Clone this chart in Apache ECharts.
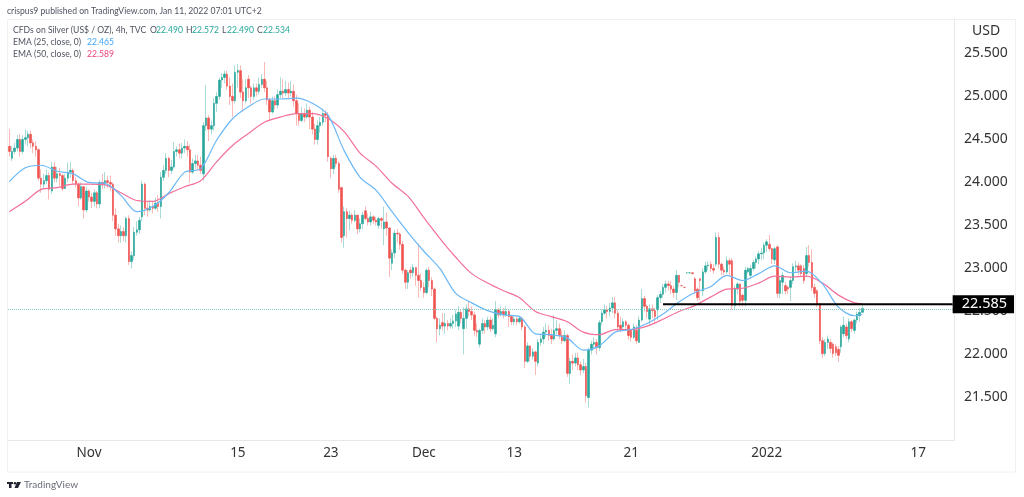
<!DOCTYPE html>
<html>
<head>
<meta charset="utf-8">
<title>CFDs on Silver</title>
<script src="https://cdn.jsdelivr.net/npm/echarts@6/dist/echarts.min.js"></script>
<style>
html,body{margin:0;padding:0;background:#fff;}
#chart{width:1024px;height:497px;}
</style>
</head>
<body>
<div id="chart"></div>
<script>
// candles, one 4h bar per entry
var opens = [
24.42,24.28,24.36,24.40,24.50,24.36,24.50,24.52,24.56,24.46,
24.42,24.38,24.05,23.98,24.02,24.08,23.90,24.18,24.05,24.10,
24.08,23.93,24.05,24.12,24.14,24.02,23.98,23.82,23.95,23.68,
23.90,23.83,23.78,23.88,23.75,24.00,23.98,24.02,24.00,23.98,
23.62,23.46,23.38,23.43,23.38,23.58,23.08,23.15,23.42,23.45,
23.60,23.98,23.70,23.68,23.72,23.70,23.76,23.72,24.06,24.14,
24.28,24.14,24.18,24.36,24.38,24.34,24.40,24.42,24.38,24.12,
24.22,24.25,24.20,24.10,24.66,24.75,24.62,24.66,24.92,25.00,
25.19,25.22,25.26,25.12,25.00,24.95,25.28,25.30,25.05,24.95,
25.20,25.10,25.00,25.10,25.06,25.14,25.20,25.10,24.96,24.82,
24.95,24.90,25.02,25.06,25.04,25.08,25.04,25.06,24.95,24.80,
24.72,24.80,24.76,24.84,24.76,24.62,24.50,24.66,24.70,24.80,
24.78,24.28,24.16,24.28,24.22,23.94,23.38,23.66,23.58,23.62,
23.56,23.62,23.46,23.52,23.67,23.58,23.54,23.60,23.56,23.50,
23.58,23.46,23.54,23.47,23.06,23.18,23.41,23.40,23.28,22.98,
22.84,22.98,22.95,23.01,22.92,22.86,22.78,22.72,22.98,22.86,
22.76,22.42,22.30,22.37,22.33,22.36,22.33,22.36,22.39,22.33,
22.49,22.30,22.42,22.53,22.50,22.46,22.28,22.12,22.28,22.36,
22.32,22.40,22.30,22.24,22.52,22.46,22.50,22.46,22.50,22.44,
22.38,22.41,22.38,22.42,22.32,21.92,22.10,21.98,22.03,21.90,
22.14,22.18,22.26,22.28,22.22,22.18,22.28,22.30,22.22,22.16,
22.22,21.78,21.92,21.90,21.96,21.88,21.82,21.86,21.50,22.05,
22.12,22.14,22.08,22.38,22.48,22.52,22.50,22.54,22.60,22.48,
22.34,22.32,22.38,22.34,22.28,22.20,22.28,22.14,22.40,22.65,
22.56,22.41,22.53,22.51,22.52,22.66,22.70,22.78,22.82,22.80,
22.76,22.72,22.92,22.80,22.78,22.95,22.95,22.95,22.88,22.76,
22.88,22.74,22.96,23.03,23.05,23.00,23.05,23.36,23.05,22.98,
22.96,23.09,23.09,22.57,22.76,22.82,22.69,22.63,22.96,22.92,
23.00,23.07,23.11,23.17,23.18,23.27,23.28,23.23,23.10,23.25,
22.71,22.84,22.80,22.78,22.78,22.86,23.02,23.03,23.03,23.00,
22.94,23.15,23.07,22.78,22.74,22.59,22.16,22.01,22.14,22.14,
22.12,22.09,22.06,22.09,22.24,22.32,22.18,22.38,22.28,22.40,
22.45,22.49];
var closes = [
24.36,24.36,24.40,24.50,24.36,24.50,24.52,24.56,24.46,24.42,
24.38,24.05,23.98,24.02,24.08,23.92,24.18,24.05,24.10,24.08,
23.93,24.05,24.12,24.14,24.02,23.98,23.82,23.95,23.68,23.90,
23.83,23.78,23.88,23.75,24.00,23.98,24.02,24.00,23.98,23.62,
23.46,23.38,23.43,23.38,23.58,23.08,23.15,23.42,23.45,23.56,
23.98,23.70,23.68,23.72,23.70,23.76,23.72,24.06,24.14,24.28,
24.14,24.18,24.36,24.38,24.34,24.40,24.42,24.38,24.12,24.22,
24.25,24.20,24.14,24.66,24.75,24.62,24.66,24.92,25.00,25.19,
25.22,25.26,25.12,25.00,24.95,25.28,25.30,25.05,24.95,25.10,
25.10,25.00,25.10,25.06,25.14,25.20,25.10,24.96,24.82,24.95,
24.90,25.02,25.06,25.04,25.08,25.04,25.06,24.95,24.80,24.72,
24.80,24.76,24.84,24.76,24.62,24.50,24.66,24.70,24.80,24.78,
24.30,24.16,24.28,24.22,23.92,23.36,23.66,23.58,23.62,23.56,
23.62,23.46,23.52,23.62,23.58,23.54,23.60,23.56,23.54,23.58,
23.56,23.54,23.47,23.12,23.18,23.41,23.40,23.28,22.98,22.84,
22.95,22.95,23.01,22.92,22.86,22.78,22.72,22.98,22.86,22.76,
22.42,22.30,22.34,22.33,22.36,22.33,22.36,22.39,22.47,22.49,
22.42,22.42,22.53,22.50,22.46,22.28,22.26,22.28,22.36,22.32,
22.40,22.30,22.34,22.52,22.46,22.50,22.46,22.50,22.44,22.38,
22.41,22.38,22.42,22.32,21.92,22.10,21.98,22.03,21.92,22.14,
22.18,22.26,22.28,22.22,22.18,22.28,22.30,22.22,22.16,22.22,
21.78,21.92,21.90,21.96,21.88,21.82,21.86,21.52,22.05,22.12,
22.14,22.08,22.37,22.48,22.52,22.50,22.54,22.60,22.48,22.32,
22.30,22.38,22.34,22.22,22.20,22.32,22.16,22.40,22.65,22.56,
22.50,22.53,22.51,22.44,22.66,22.70,22.78,22.82,22.80,22.76,
22.72,22.92,22.84,22.80,22.78,22.95,22.95,22.94,22.74,22.66,
22.86,22.96,23.03,23.04,23.00,22.98,23.36,23.05,22.98,22.96,
23.09,23.05,22.57,22.76,22.82,22.62,22.63,22.98,23.00,23.00,
23.07,23.11,23.17,23.18,23.27,23.31,23.23,23.11,23.23,22.71,
22.86,22.92,22.74,22.76,22.86,23.02,23.03,22.98,22.94,22.86,
23.15,23.07,22.78,22.71,22.59,22.16,22.01,22.14,22.18,22.07,
22.01,22.02,21.99,22.32,22.34,22.22,22.38,22.30,22.40,22.47,
22.49,22.534];
var lows = [
24.30,24.25,24.33,24.36,24.30,24.33,24.44,24.42,24.40,24.34,
24.30,24.02,23.88,23.92,23.98,23.80,23.87,24.00,24.00,23.96,
23.90,23.92,24.00,24.05,23.98,23.94,23.72,23.80,23.58,23.65,
23.78,23.70,23.72,23.70,23.70,23.92,23.93,23.94,23.90,23.55,
23.38,23.30,23.30,23.32,23.30,23.04,23.00,23.10,23.38,23.40,
23.55,23.62,23.60,23.66,23.64,23.68,23.66,23.58,24.02,24.10,
24.06,24.10,24.16,24.30,24.28,24.28,24.34,24.30,24.00,24.10,
24.16,24.14,24.10,24.02,24.60,24.48,24.56,24.60,24.82,24.96,
25.10,25.15,25.08,24.90,24.76,24.92,25.10,24.98,24.82,24.92,
24.98,24.92,24.96,25.00,25.02,25.10,25.05,24.90,24.72,24.80,
24.85,24.86,24.98,24.98,25.00,24.98,25.00,24.88,24.66,24.66,
24.70,24.70,24.74,24.62,24.56,24.44,24.44,24.58,24.66,24.70,
24.24,24.05,24.10,24.18,23.88,23.30,23.24,23.36,23.44,23.52,
23.54,23.40,23.42,23.46,23.56,23.50,23.50,23.52,23.50,23.46,
23.46,23.27,23.38,22.90,22.98,23.12,23.30,23.22,22.94,22.76,
22.76,22.88,22.90,22.80,22.66,22.74,22.66,22.70,22.78,22.68,
22.40,22.14,22.22,22.28,22.24,22.28,22.30,22.30,22.32,22.28,
22.36,22.00,22.30,22.44,22.40,22.22,22.20,22.08,22.24,22.24,
22.28,22.26,22.28,22.20,22.42,22.44,22.42,22.44,22.32,22.34,
22.34,22.34,22.36,22.28,21.84,21.90,21.92,21.94,21.76,21.86,
22.10,22.12,22.20,22.16,22.12,22.16,22.24,22.18,22.12,22.14,
21.74,21.66,21.82,21.86,21.82,21.76,21.78,21.44,21.38,22.00,
22.06,22.00,22.04,22.34,22.46,22.42,22.44,22.48,22.42,22.26,
22.26,22.28,22.28,22.17,22.15,22.18,22.12,22.14,22.38,22.50,
22.42,22.34,22.42,22.36,22.40,22.60,22.66,22.72,22.74,22.70,
22.66,22.63,22.78,22.79,22.77,22.94,22.94,22.93,22.70,22.62,
22.63,22.68,22.94,22.98,22.96,22.94,23.02,23.00,22.92,22.92,
22.94,22.92,22.52,22.52,22.70,22.56,22.56,22.56,22.94,22.88,
22.97,23.00,23.05,23.10,23.11,23.19,23.20,23.05,23.05,22.66,
22.65,22.70,22.70,22.70,22.62,22.82,22.96,22.92,22.90,22.82,
22.90,23.02,22.74,22.66,22.55,22.12,21.96,21.98,22.06,22.02,
21.96,21.98,21.91,22.02,22.20,22.18,22.14,22.26,22.24,22.36,
22.38,22.49];
var highs = [
24.62,24.42,24.46,24.55,24.56,24.55,24.62,24.60,24.60,24.50,
24.48,24.40,24.15,24.10,24.15,24.12,24.24,24.24,24.18,24.17,
24.10,24.10,24.23,24.24,24.16,24.06,24.00,24.00,23.96,23.95,
23.92,23.88,23.92,23.90,24.03,24.10,24.12,24.08,24.08,24.00,
23.70,23.52,23.50,23.48,23.60,23.62,23.20,23.48,23.55,23.60,
24.02,24.00,23.78,23.80,23.78,23.82,23.85,24.12,24.20,24.34,
24.30,24.26,24.47,24.42,24.45,24.46,24.50,24.48,24.44,24.28,
24.32,24.32,24.30,24.70,25.13,24.78,24.72,24.98,25.05,25.22,
25.27,25.30,25.30,25.22,25.15,25.36,25.38,25.36,25.20,25.20,
25.25,25.12,25.15,25.15,25.22,25.26,25.40,25.18,24.98,25.00,
25.00,25.08,25.22,25.20,25.18,25.16,25.18,25.14,25.02,24.92,
24.88,24.86,24.92,24.88,24.82,24.68,24.72,24.76,24.86,24.84,
24.82,24.30,24.32,24.32,24.25,23.95,23.72,23.70,23.67,23.64,
23.68,23.62,23.58,23.66,23.72,23.64,23.66,23.62,23.60,23.60,
23.60,23.72,23.65,23.48,23.22,23.45,23.46,23.42,23.32,23.00,
22.98,23.02,23.05,23.00,23.29,22.94,22.84,23.00,23.02,22.90,
22.78,22.44,22.42,22.48,22.48,22.40,22.42,22.46,22.52,22.56,
22.52,22.55,22.58,22.62,22.56,22.50,22.36,22.30,22.42,22.40,
22.44,22.44,22.42,22.62,22.54,22.56,22.54,22.56,22.52,22.46,
22.46,22.44,22.45,22.44,22.34,22.14,22.10,22.07,22.04,22.18,
22.24,22.32,22.36,22.34,22.30,22.46,22.40,22.36,22.28,22.28,
22.24,21.96,22.00,22.02,22.02,21.92,21.95,21.90,22.08,22.16,
22.20,22.18,22.40,22.52,22.58,22.56,22.60,22.67,22.67,22.52,
22.44,22.42,22.40,22.36,22.30,22.36,22.34,22.44,22.76,22.68,
22.58,22.58,22.58,22.54,22.69,22.74,22.82,22.86,22.86,22.85,
22.80,22.98,22.92,22.81,22.79,22.96,22.96,22.95,22.90,22.78,
22.88,23.00,23.08,23.08,23.08,23.05,23.42,23.42,23.07,23.02,
23.14,23.12,23.12,22.80,22.84,22.82,22.70,23.02,23.02,23.04,
23.10,23.14,23.20,23.24,23.30,23.34,23.39,23.24,23.25,23.27,
22.90,22.96,22.84,22.80,22.90,23.06,23.09,23.07,23.05,23.04,
23.25,23.27,23.22,22.82,22.76,22.60,22.20,22.18,22.22,22.18,
22.14,22.12,22.10,22.34,22.44,22.36,22.42,22.40,22.42,22.50,
22.54,22.572];

// EMA lines, read every 6th bar
var emaBars = [0,6,12,18,24,30,36,42,48,54,60,66,72,78,84,90,96,102,108,114,120,126,132,138,144,150,156,162,168,174,180,186,192,198,204,210,216,222,228,234,240,246,252,258,264,270,276,282,288,294,300,306,312,318,321];
var ema25 = [24.01,24.17,24.20,24.13,24.10,24.00,23.99,23.85,23.66,23.72,23.88,24.12,24.16,24.49,24.74,24.88,24.97,24.97,24.98,24.92,24.78,24.37,24.06,23.91,23.66,23.42,23.20,23.00,22.71,22.60,22.51,22.46,22.44,22.24,22.23,22.19,22.05,22.10,22.26,22.29,22.36,22.47,22.61,22.72,22.79,22.92,22.86,22.94,23.03,22.95,22.97,22.82,22.55,22.45,22.465];
var ema50 = [23.66,23.78,23.92,23.94,23.98,23.98,23.97,23.88,23.79,23.78,23.87,23.95,24.02,24.24,24.43,24.57,24.70,24.76,24.80,24.80,24.74,24.59,24.34,24.19,23.99,23.84,23.59,23.35,23.13,22.94,22.83,22.74,22.66,22.50,22.44,22.38,22.26,22.23,22.29,22.29,22.33,22.41,22.50,22.57,22.67,22.76,22.77,22.83,22.91,22.90,22.91,22.83,22.69,22.60,22.589];

var lastPrice = 22.534;
var levelPrice = 22.585;
var levelStartBar = 246;

var barCount = 356;
var xTickBars = [30,86,121,156,190,234,285,342];
var xTickLabels = ['Nov','15','23','Dec','13','21','2022','17'];

var categories = [];
for (var i = 0; i < barCount; i++) {
	categories.push(String(i));
}
// wicks and bodies are two layers, the wicks come out paler in the picture
var candles = [];
var bodies = [];
for (var c = 0; c < closes.length; c++) {
	candles.push([opens[c], closes[c], lows[c], highs[c]]);
	bodies.push([opens[c], closes[c], Math.min(opens[c], closes[c]), Math.max(opens[c], closes[c])]);
}
function barPairs(values) {
	var out = [];
	for (var k = 0; k < values.length; k++) {
		out.push([emaBars[k], values[k]]);
	}
	return out;
}
// the reference header font is narrow, squeeze Lato to fit
function txt(x, y, text, color, size, family, squeeze) {
	return {
		type: 'text', x: x, y: y, scaleX: squeeze || 0.86, silent: true,
		style: { text: text, fill: color, font: (size || 10) + 'px "' + (family || 'Lato') + '"', textVerticalAlign: 'middle' }
	};
}

var UP = '#26a69a', DOWN = '#ef5350', GREY = '#4f5360';
var myChart = echarts.init(document.getElementById('chart'));
var option = {
	animation: false,
	backgroundColor: '#fff',
	grid: { left: 8, top: 19, width: 946, height: 421.5 },
	xAxis: {
		type: 'category',
		data: categories,
		axisLine: { lineStyle: { color: '#e6e8ee' } },
		axisTick: { show: false },
		splitLine: { show: false },
		axisLabel: {
			interval: function (index) { return xTickBars.indexOf(index) >= 0; },
			formatter: function (value, index) { return xTickLabels[xTickBars.indexOf(index)]; },
			color: '#333',
			fontFamily: 'Noto Sans',
			fontSize: 13.5,
			margin: 6,
			hideOverlap: false
		}
	},
	yAxis: {
		type: 'value',
		position: 'right',
		min: 21,
		max: 25.9,
		interval: 0.5,
		splitLine: { show: false },
		axisTick: { show: false },
		axisLine: { show: true, lineStyle: { color: '#e6e8ee' } },
		axisLabel: {
			showMinLabel: false,
			showMaxLabel: false,
			formatter: function (v) { return v.toFixed(3); },
			color: '#333',
			fontFamily: 'Noto Sans',
			fontSize: 14,
			margin: 10,
			padding: [2, 0, 0, 0]
		}
	},
	series: [
		{
			type: 'candlestick',
			data: candles,
			barWidth: 1,
			silent: true,
			itemStyle: { color: '#a8dbd6', color0: '#f9b9b7', borderColor: '#a8dbd6', borderColor0: '#f9b9b7', borderWidth: 1 },
			markLine: {
				silent: true,
				symbol: 'none',
				label: { show: false },
				lineStyle: { color: '#86cdc6', type: 'dotted', width: 1 },
				data: [{ yAxis: lastPrice }]
			}
		},
		{
			type: 'candlestick',
			data: bodies,
			barWidth: 2,
			silent: true,
			itemStyle: { color: UP, color0: DOWN, borderColor: UP, borderColor0: DOWN, borderWidth: 0.6 }
		},
		{
			type: 'line', data: barPairs(ema25), showSymbol: false, smooth: 0.3, silent: true,
			lineStyle: { color: '#6bb8f7', width: 1.2 }, z: 4
		},
		{
			type: 'line', data: barPairs(ema50), showSymbol: false, smooth: 0.3, silent: true,
			lineStyle: { color: '#f2709a', width: 1.2 }, z: 3
		},
		{
			type: 'line',
			data: [[levelStartBar, levelPrice], [barCount - 1, levelPrice]],
			showSymbol: false, silent: true, z: 6,
			lineStyle: { color: '#000', width: 2 },
			endLabel: {
				show: true,
				formatter: function () { return levelPrice.toFixed(3); },
				backgroundColor: '#000',
				color: '#fff',
				fontFamily: 'Noto Sans',
				fontSize: 14.5,
				padding: [2, 7, 1, 9],
				distance: 0
			}
		}
	],
	graphic: [
		{ type: 'rect', silent: true, z: -1, shape: { x: 7.5, y: 19.5, width: 1008, height: 452.5 }, style: { fill: 'none', stroke: '#eef0f4' } },
		txt(7, 11, 'crispus9 published on TradingView.com, Jan 11, 2022 07:01 UTC+2', GREY, 10),
		txt(13, 30, 'CFDs on Silver (US$ / OZ), 4h, TVC', GREY),
		txt(150, 30, 'O', GREY), txt(156, 30, '22.490', UP),
		txt(186, 30, 'H', GREY), txt(192, 30, '22.572', UP),
		txt(222, 30, 'L', GREY), txt(227, 30, '22.490', UP),
		txt(257, 30, 'C', GREY), txt(263, 30, '22.534', UP),
		txt(13, 42, 'EMA (25, close, 0)', GREY), txt(87, 42, '22.465', '#42a5f5'),
		txt(13, 54, 'EMA (50, close, 0)', GREY), txt(87, 54, '22.589', '#ec407a'),
		txt(972, 31, 'USD', '#333', 14, 'Noto Sans', 1),
		{ type: 'rect', silent: true, shape: { x: 7, y: 482, width: 6, height: 2 }, style: { fill: '#1f2430' } },
		{ type: 'rect', silent: true, shape: { x: 9, y: 482, width: 2.5, height: 6 }, style: { fill: '#1f2430' } },
		{ type: 'circle', silent: true, shape: { cx: 15, cy: 483.2, r: 1.3 }, style: { fill: '#1f2430' } },
		{ type: 'polygon', silent: true, shape: { points: [[17, 482], [21, 482], [18, 488], [14.5, 488]] }, style: { fill: '#1f2430' } },
		txt(24, 485, 'TradingView', '#6a6d78', 10, 'Lato', 1)
	]
};
myChart.setOption(option);
</script>
</body>
</html>
